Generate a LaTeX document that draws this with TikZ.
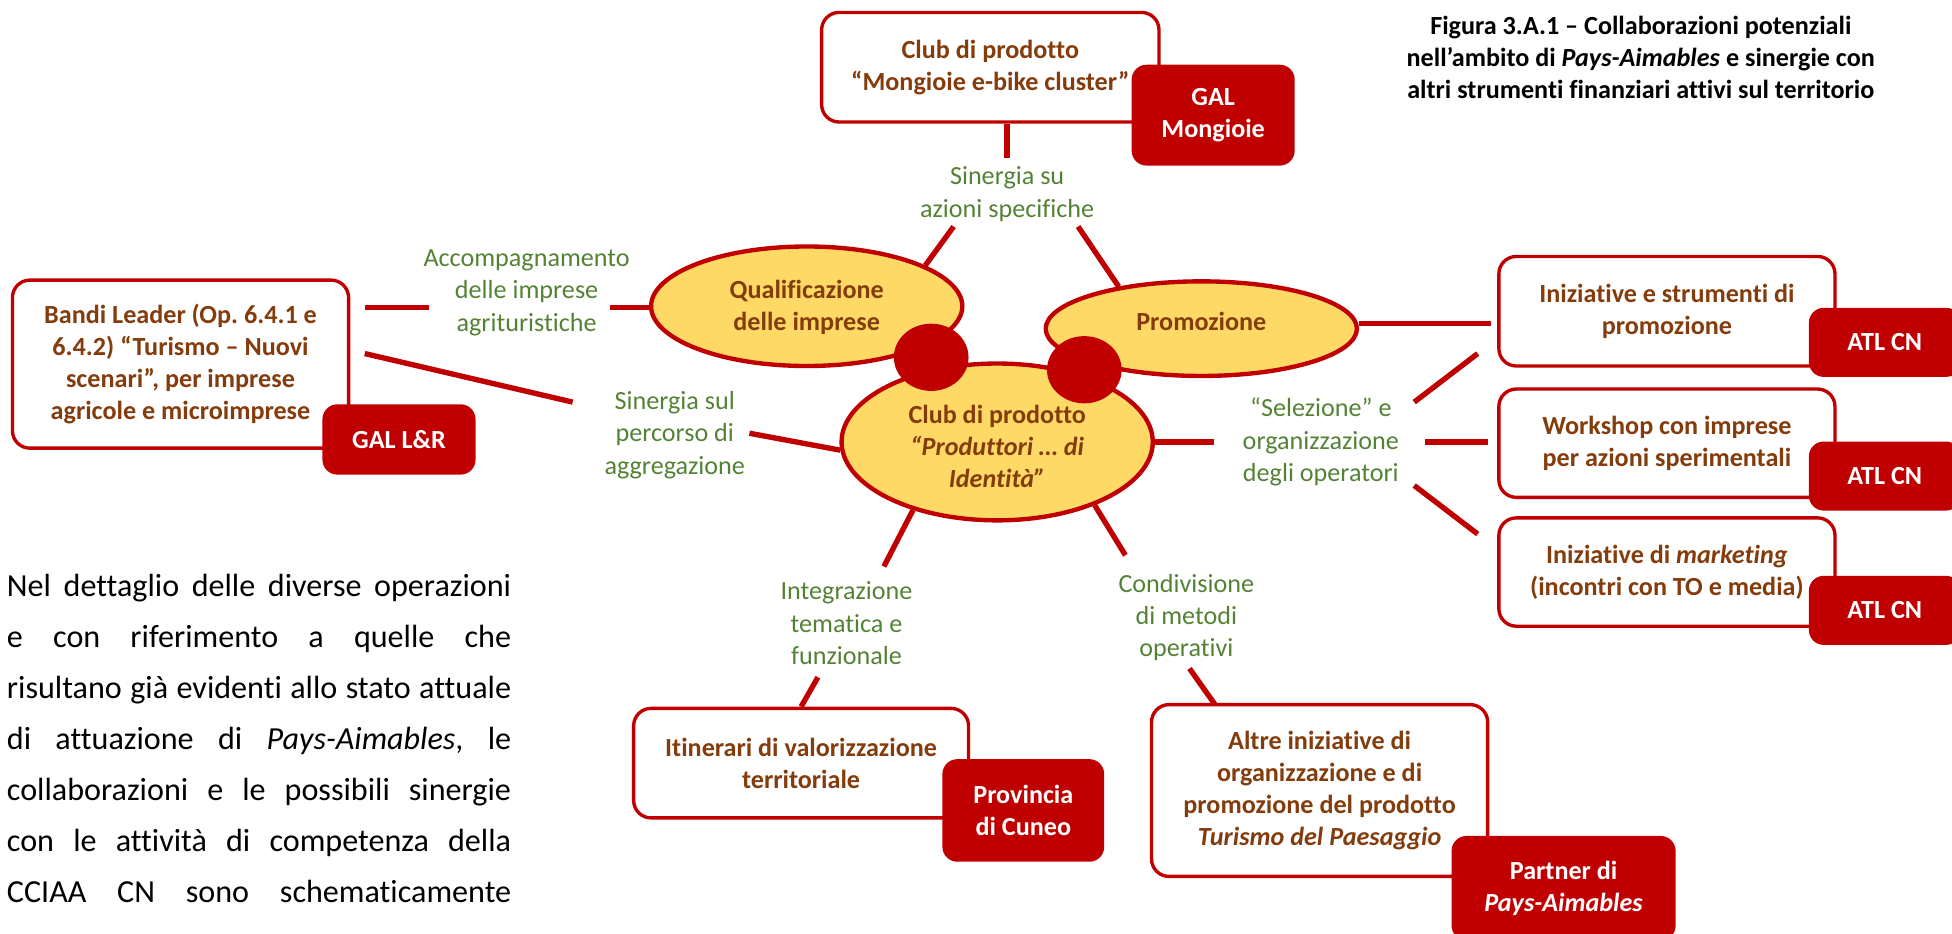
\documentclass[tikz,border=0pt]{standalone}
\usepackage{fontspec}
\setmainfont{Carlito}[Ligatures=NoCommon]
\usetikzlibrary{shapes.geometric,backgrounds}
\definecolor{dred}{HTML}{C00000}
\definecolor{txtbrown}{HTML}{843C0C}
\definecolor{lgreen}{HTML}{548235}
\definecolor{ellfill}{HTML}{FFD966}
\newcommand\dboxfont{\bfseries\fontsize{21}{25.6}\selectfont}
\newcommand\dlabfont{\fontsize{21}{26}\selectfont}
\frenchspacing
\begin{document}
\begin{tikzpicture}[x=1pt,y=-1pt,
  wbox/.style={draw=dred, line width=2.7pt, rounded corners=14pt, fill=white, align=center, text=txtbrown, font=\dboxfont, inner sep=0pt},
  rbox/.style={fill=dred, rounded corners=12pt, align=center, text=white, font=\dboxfont, inner sep=0pt},
  ell/.style={ellipse, draw=dred, line width=3.5pt, fill=ellfill, inner sep=0pt},
  elltext/.style={align=center, text=txtbrown, font=\dboxfont, inner sep=0pt},
  blob/.style={ellipse, fill=dred, inner sep=0pt, minimum width=60pt, minimum height=54pt},
  lab/.style={align=center, text=lgreen, font=\dlabfont, inner sep=0pt},
  conn/.style={draw=dred, line width=4.3pt}]
\useasboundingbox (0,0) rectangle (1568,750);

% caption
\node[align=center, font=\dboxfont, inner sep=0pt] (caption) at (1318,46)
  {Figura 3.A.1 – Collaborazioni potenziali\\nell’ambito di \textit{Pays-Aimables} e sinergie con\\altri strumenti finanziari attivi sul territorio};

% body text
\node[anchor=north west, inner sep=0pt, align=left, font=\fontsize{25.8}{41}\selectfont] (body) at (5.4,461)
  {\makebox[405pt][s]{Nel dettaglio delle diverse operazioni}\\
   \makebox[405pt][s]{e con riferimento a quelle che}\\
   \makebox[405pt][s]{risultano già evidenti allo stato attuale}\\
   \makebox[405pt][s]{di attuazione di \textit{Pays-Aimables}, le}\\
   \makebox[405pt][s]{collaborazioni e le possibili sinergie}\\
   \makebox[405pt][s]{con le attività di competenza della}\\
   \makebox[405pt][s]{CCIAA CN sono schematicamente}};

% white boxes
\node[wbox, minimum width=271pt, minimum height=88pt] (topbox) at (795.5,54)
  {Club di prodotto\\“Mongioie e-bike cluster”};
\node[wbox, minimum width=270pt, minimum height=135pt] (bandi) at (145,292.5)
  {Bandi Leader (Op. 6.4.1 e\\6.4.2) “Turismo – Nuovi\\scenari”, per imprese\\agricole e microimprese};
\node[wbox, minimum width=270pt, minimum height=88pt] (ini1) at (1339,250)
  {Iniziative e strumenti di\\promozione};
\node[wbox, minimum width=270pt, minimum height=87pt] (work) at (1339,356)
  {Workshop con imprese\\per azioni sperimentali};
\node[wbox, minimum width=270pt, minimum height=87pt] (mark) at (1339,459.5)
  {Iniziative di \textit{marketing}\\(incontri con TO e media)};
\node[wbox, minimum width=269pt, minimum height=88pt] (itin) at (643.5,613)
  {Itinerari di valorizzazione\\territoriale};
\node[wbox, minimum width=270pt, minimum height=138pt] (altre) at (1060,635)
  {Altre iniziative di\\organizzazione e di\\promozione del prodotto\\\textit{Turismo del Paesaggio}};

% red boxes
\node[rbox, minimum width=131pt, minimum height=81pt] (galm) at (974.5,92.5) {GAL\\Mongioie};
\node[rbox, minimum width=123pt, minimum height=56.5pt] (gallr) at (320.5,353) {GAL L\&R};
\node[rbox, minimum width=122pt, minimum height=55.5pt] (atl1) at (1514,275) {ATL CN};
\node[rbox, minimum width=122pt, minimum height=55.5pt] (atl2) at (1514,382.4) {ATL CN};
\node[rbox, minimum width=122pt, minimum height=55.5pt] (atl3) at (1514,490.3) {ATL CN};
\node[rbox, minimum width=130pt, minimum height=82.4pt] (prov) at (822,651) {Provincia\\di Cuneo};
\node[rbox, minimum width=180pt, minimum height=84pt] (partner) at (1256,713.5) {Partner di\\\textit{Pays-Aimables}};

% ellipses
\node[ell, minimum width=250pt, minimum height=96pt] (qual) at (648,246) {};
\node[ell, minimum width=250pt, minimum height=76pt] (promo) at (965,264) {};
\node[ell, minimum width=250pt, minimum height=126pt] (club) at (801,355) {};
\node[blob] (blobl) at (748,287) {};
\node[blob] (blobr) at (871,297) {};
\node[elltext] (qualtxt) at (648,247) {Qualificazione\\delle imprese};
\node[elltext] (promotxt) at (965,258.5) {Promozione};
\node[elltext] (clubtxt) at (801,358.5) {Club di prodotto\\\textit{“Produttori … di}\\\textit{Identità”}};

% labels
\node[lab] (sin1) at (809,156) {Sinergia su\\azioni specifiche};
\node[lab] (acc) at (423,235) {Accompagnamento\\delle imprese\\agrituristiche};
\node[lab] (sin2) at (542,349.5) {Sinergia sul\\percorso di\\aggregazione};
\node[lab] (sel) at (1061,355) {“Selezione” e\\organizzazione\\degli operatori};
\node[lab] (integ) at (680,500.6) {Integrazione\\tematica e\\funzionale};
\node[lab] (cond) at (953,496) {Condivisione\\di metodi\\operativi};

% connector end points
\coordinate (c1) at (809,127);
\coordinate (c2) at (766,182);
\coordinate (c3) at (866,182);
\coordinate (c4a) at (293,247);
\coordinate (c4b) at (345,247);
\coordinate (c5) at (490,247);
\coordinate (c6a) at (293,284);
\coordinate (c6b) at (460,323);
\coordinate (c7) at (602,348);
\coordinate (c8) at (975,355);
\coordinate (c9) at (1198,260);
\coordinate (c10a) at (1136,323);
\coordinate (c10b) at (1187,284);
\coordinate (c11a) at (1145,355);
\coordinate (c11b) at (1195,355);
\coordinate (c12a) at (1136,390);
\coordinate (c12b) at (1187,429);
\coordinate (c13) at (710,455);
\coordinate (c14) at (657,544);
\coordinate (c15) at (904,446);
\coordinate (c16a) at (955.5,537);
\coordinate (c16b) at (976,566);

\begin{pgfonlayer}{background}
\draw[conn] (topbox.south -| c1) -- (c1);
\draw[conn] (c2) -- (qual.19);
\draw[conn] (c3) -- (promo.153);
\draw[conn] (c4a) -- (c4b);
\draw[conn] (c5) -- (qual.west |- c5);
\draw[conn] (c6a) -- (c6b);
\draw[conn] (c7) -- (club.183);
\draw[conn] (club.east) -- (c8);
\draw[conn] (promo.east |- c9) -- (c9);
\draw[conn] (c10a) -- (c10b);
\draw[conn] (c11a) -- (c11b);
\draw[conn] (c12a) -- (c12b);
\draw[conn] (club.219) -- (c13);
\draw[conn] (c14) -- (itin.north);
\draw[conn] (club.-33) -- (c15);
\draw[conn] (c16a) -- (c16b);
\end{pgfonlayer}
\end{tikzpicture}
\end{document}
